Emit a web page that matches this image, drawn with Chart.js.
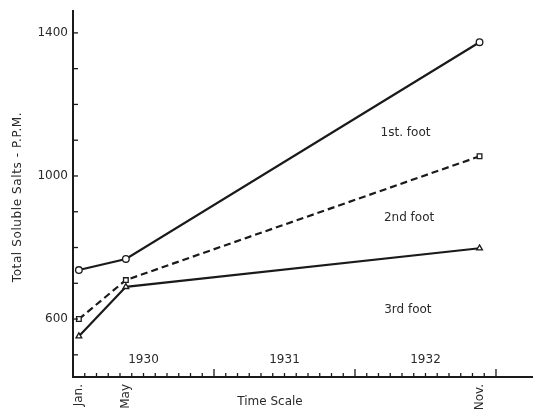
<!DOCTYPE html>
<html><head><meta charset="utf-8">
<script src="https://cdn.jsdelivr.net/npm/chart.js@4/dist/chart.umd.min.js"></script>
<style>html,body{margin:0;padding:0;background:#fff}#w{width:534px;height:415px}</style>
</head><body><div id="w"><canvas id="c"></canvas></div>
<script>
// Months counted from Jan 1, 1930
const monthPos = [0.5, 4.5, 34.6];
const monthLabels = ["Jan.", "May", "Nov."];
const foot1 = [737, 768, 1374];
const foot2 = [600, 709, 1055];
const foot3 = [552, 690, 798];
const seriesNames = ["1st. foot", "2nd foot", "3rd foot"];
const yearLabels = ["1930", "1931", "1932"];
const yLabelValues = [600, 1000, 1400];

const INK = '#1a1a1a';
const pts = arr => arr.map((v, i) => ({x: monthPos[i], y: v}));

const decor = {
  id: 'decor',
  afterDraw(chart) {
    const ctx = chart.ctx, xs = chart.scales.x, ys = chart.scales.y, a = chart.chartArea;
    ctx.save();
    ctx.strokeStyle = INK; ctx.fillStyle = INK; ctx.lineWidth = 2;
    // axes
    ctx.beginPath();
    ctx.moveTo(a.left, a.top); ctx.lineTo(a.left, a.bottom); ctx.lineTo(a.right, a.bottom);
    ctx.stroke();
    // y ticks every 100
    ctx.lineWidth = 1.3;
    for (let v = 500; v <= 1400; v += 100) {
      const y = ys.getPixelForValue(v);
      ctx.beginPath(); ctx.moveTo(a.left, y); ctx.lineTo(a.left + 5, y); ctx.stroke();
    }
    // x ticks monthly
    for (let m = 1; m <= 36; m++) {
      const x = xs.getPixelForValue(m);
      const len = (m % 12 === 0) ? 8 : 4;
      ctx.beginPath(); ctx.moveTo(x, a.bottom); ctx.lineTo(x, a.bottom - len); ctx.stroke();
    }
    ctx.font = '12px "DejaVu Sans", sans-serif';
    ctx.fillStyle = '#2a2a2a';
    // y labels
    ctx.textAlign = 'right'; ctx.textBaseline = 'middle';
    yLabelValues.forEach(v => ctx.fillText(String(v), a.left - 5, ys.getPixelForValue(v)));
    // year labels
    ctx.textAlign = 'center'; ctx.textBaseline = 'middle';
    yearLabels.forEach((t, i) => ctx.fillText(t, xs.getPixelForValue(i * 12 + 6), a.bottom - 17));
    // month labels rotated
    ctx.font = '12px "DejaVu Sans", sans-serif';
    monthLabels.forEach((t, i) => {
      const x = xs.getPixelForValue(monthPos[i]);
      ctx.save(); ctx.translate(x, a.bottom + 7); ctx.rotate(-Math.PI / 2);
      ctx.textAlign = 'right'; ctx.textBaseline = 'middle';
      ctx.fillText(t, 0, 0); ctx.restore();
    });
    // x title
    ctx.font = '12px "DejaVu Sans", sans-serif';
    ctx.textAlign = 'center'; ctx.textBaseline = 'middle';
    ctx.fillText('Time Scale', 270, 402);
    // y title
    ctx.save(); ctx.translate(18, 197); ctx.rotate(-Math.PI / 2);
    ctx.font = '12px "DejaVu Sans", sans-serif';
    try { ctx.letterSpacing = '0.6px'; } catch (e) {}
    ctx.fillText('Total Soluble Salts - P.P.M.', 0, 0);
    ctx.restore();
    // series labels
    ctx.font = '12px "DejaVu Sans", sans-serif';
    const lab = [[28.3, 1120], [28.6, 882], [28.5, 625]];
    seriesNames.forEach((t, i) => ctx.fillText(t, xs.getPixelForValue(lab[i][0]), ys.getPixelForValue(lab[i][1])));
    ctx.restore();
  }
};

const ds = (label, data, style, dash) => ({
  label, data: pts(data), borderColor: INK, borderWidth: 2.2, borderDash: dash,
  pointStyle: style, pointRadius: 3.3, pointBackgroundColor: '#fff', pointBorderColor: INK,
  pointBorderWidth: 1.3, tension: 0, fill: false
});

new Chart(document.getElementById('c'), {
  type: 'line',
  data: { datasets: [
    ds(seriesNames[0], foot1, 'circle', []),
    ds(seriesNames[1], foot2, 'rect', [7, 4]),
    ds(seriesNames[2], foot3, 'triangle', [])
  ]},
  options: {
    responsive: true, maintainAspectRatio: false, animation: false,
    layout: { autoPadding: false, padding: { left: 73, top: 10, right: 1, bottom: 38 } },
    plugins: { legend: { display: false }, tooltip: { enabled: false } },
    scales: {
      x: { type: 'linear', min: 0, max: 39.15, display: false },
      y: { type: 'linear', min: 438, max: 1464, display: false }
    }
  },
  plugins: [decor]
});
</script></body></html>
